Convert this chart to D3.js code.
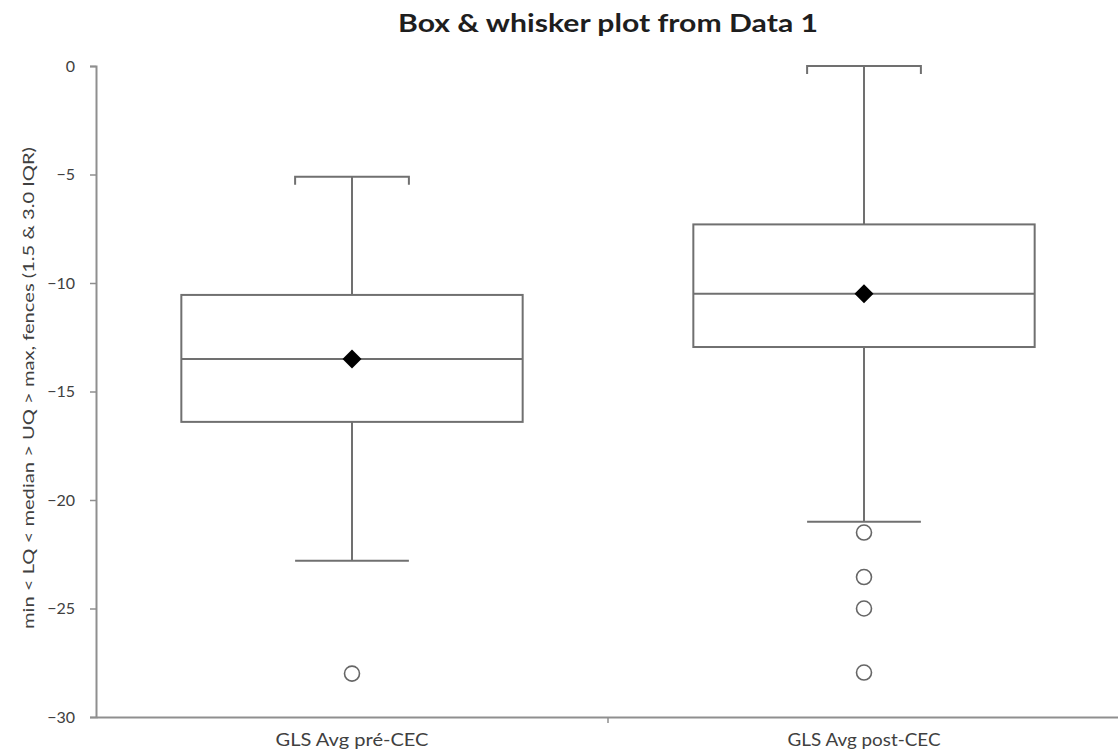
<!DOCTYPE html>
<html>
<head>
<meta charset="utf-8">
<script src="https://cdn.jsdelivr.net/npm/d3@7"></script>
<style>
  html, body { margin: 0; padding: 0; background: #fff; }
  svg { display: block; }
</style>
</head>
<body>
<svg id="chart" width="1118" height="755"></svg>
<script>
// ---- data ----
const categories = ["GLS Avg pré-CEC", "GLS Avg post-CEC"];
const whiskerLow = [-22.8, -21.0];
const lowerQuartile = [-16.4, -12.95];
const median = [-13.5, -10.5];
const upperQuartile = [-10.55, -7.3];
const whiskerHigh = [-5.1, 0];
const mean = [-13.5, -10.5];
const outliers = [[-28.0], [-21.5, -23.55, -25.0, -27.95]];
const yTicks = [0, -5, -10, -15, -20, -25, -30];
const titleText = "Box & whisker plot from Data 1";
const yLabel = "min < LQ < median > UQ > max, fences (1.5 & 3.0 IQR)";

const rows = categories.map((c, i) => ({
  cat: c, lo: whiskerLow[i], q1: lowerQuartile[i], med: median[i],
  q3: upperQuartile[i], hi: whiskerHigh[i], mean: mean[i], out: outliers[i]
}));

const svg = d3.select("#chart");
const mLeft = 96, mRight = 1120, mTop = 66, mBottom = 717;

const x = d3.scaleBand().domain(categories).range([mLeft, mRight]).padding(0);
const y = d3.scaleLinear().domain([-30, 0]).range([mBottom, mTop]);

const font = "Lato, 'Open Sans', sans-serif";
const stroke = "#707070";
const axisColor = "#8f8f8f";
const textColor = "#404040";

// title
svg.append("text")
  .attr("x", 608).attr("y", 32)
  .attr("text-anchor", "middle")
  .attr("font-family", font).attr("font-weight", "bold")
  .attr("font-size", 24).attr("fill", "#1e1e1e")
  .attr("textLength", 420).attr("lengthAdjust", "spacingAndGlyphs")
  .text(titleText);

// y axis
const yAxis = svg.append("g")
  .attr("transform", `translate(${mLeft},0)`)
  .call(d3.axisLeft(y).tickValues(yTicks).tickSize(6).tickPadding(15).tickFormat(d3.format("d")));
yAxis.select(".domain").attr("stroke", axisColor).attr("stroke-width", 2);
yAxis.selectAll(".tick line").attr("stroke", axisColor).attr("stroke-width", 1.5);
yAxis.selectAll(".tick text").attr("font-family", font).attr("font-size", 16).attr("fill", textColor);

// x axis
const xAxis = svg.append("g")
  .attr("transform", `translate(0,${mBottom})`)
  .call(d3.axisBottom(x).tickSize(0).tickPadding(0));
xAxis.select(".domain").attr("stroke", axisColor).attr("stroke-width", 2);
xAxis.selectAll(".tick text")
  .attr("dy", null).attr("y", 29)
  .attr("font-family", font).attr("font-size", 17).attr("fill", textColor)
  .attr("textLength", 153).attr("lengthAdjust", "spacingAndGlyphs");
// separator tick between categories
xAxis.append("line")
  .attr("x1", x(categories[1])).attr("x2", x(categories[1]))
  .attr("y1", 0).attr("y2", 6)
  .attr("stroke", axisColor).attr("stroke-width", 1.5);

// y label
svg.append("text")
  .attr("transform", `translate(34,388) rotate(-90)`)
  .attr("text-anchor", "middle")
  .attr("font-family", font).attr("font-size", 16).attr("fill", textColor)
  .attr("textLength", 482).attr("lengthAdjust", "spacingAndGlyphs")
  .text(yLabel);

// boxes
const bw = x.bandwidth() * 2 / 3;
const capW = bw / 3;
const g = svg.selectAll("g.box").data(rows).join("g").attr("class", "box");
const cx = d => x(d.cat) + x.bandwidth() / 2;

// whiskers
g.append("line")
  .attr("x1", cx).attr("x2", cx)
  .attr("y1", d => y(d.q3)).attr("y2", d => y(d.hi))
  .attr("stroke", stroke).attr("stroke-width", 2);
g.append("line")
  .attr("x1", cx).attr("x2", cx)
  .attr("y1", d => y(d.q1)).attr("y2", d => y(d.lo))
  .attr("stroke", stroke).attr("stroke-width", 2);
// upper cap with downward ticks
g.append("path")
  .attr("d", d => `M${cx(d) - capW / 2},${y(d.hi) + 8}V${y(d.hi)}H${cx(d) + capW / 2}V${y(d.hi) + 8}`)
  .attr("fill", "none").attr("stroke", stroke).attr("stroke-width", 2);
// lower cap
g.append("line")
  .attr("x1", d => cx(d) - capW / 2).attr("x2", d => cx(d) + capW / 2)
  .attr("y1", d => y(d.lo)).attr("y2", d => y(d.lo))
  .attr("stroke", stroke).attr("stroke-width", 2);
// box
g.append("rect")
  .attr("x", d => cx(d) - bw / 2).attr("width", bw)
  .attr("y", d => y(d.q3)).attr("height", d => y(d.q1) - y(d.q3))
  .attr("fill", "#fff").attr("stroke", stroke).attr("stroke-width", 2);
// median
g.append("line")
  .attr("x1", d => cx(d) - bw / 2).attr("x2", d => cx(d) + bw / 2)
  .attr("y1", d => y(d.med)).attr("y2", d => y(d.med))
  .attr("stroke", stroke).attr("stroke-width", 2);
// mean diamond
g.append("path")
  .attr("d", d => { const m = y(d.mean), c = cx(d), r = 9.5;
    return `M${c},${m - r}L${c + r},${m}L${c},${m + r}L${c - r},${m}Z`; })
  .attr("fill", "#000");
// outliers
g.selectAll("circle").data(d => d.out.map(v => ({ v, c: cx(d) }))).join("circle")
  .attr("cx", d => d.c).attr("cy", d => y(d.v)).attr("r", 7.5)
  .attr("fill", "#fff").attr("stroke", "#666").attr("stroke-width", 1.6);
</script>
</body>
</html>
